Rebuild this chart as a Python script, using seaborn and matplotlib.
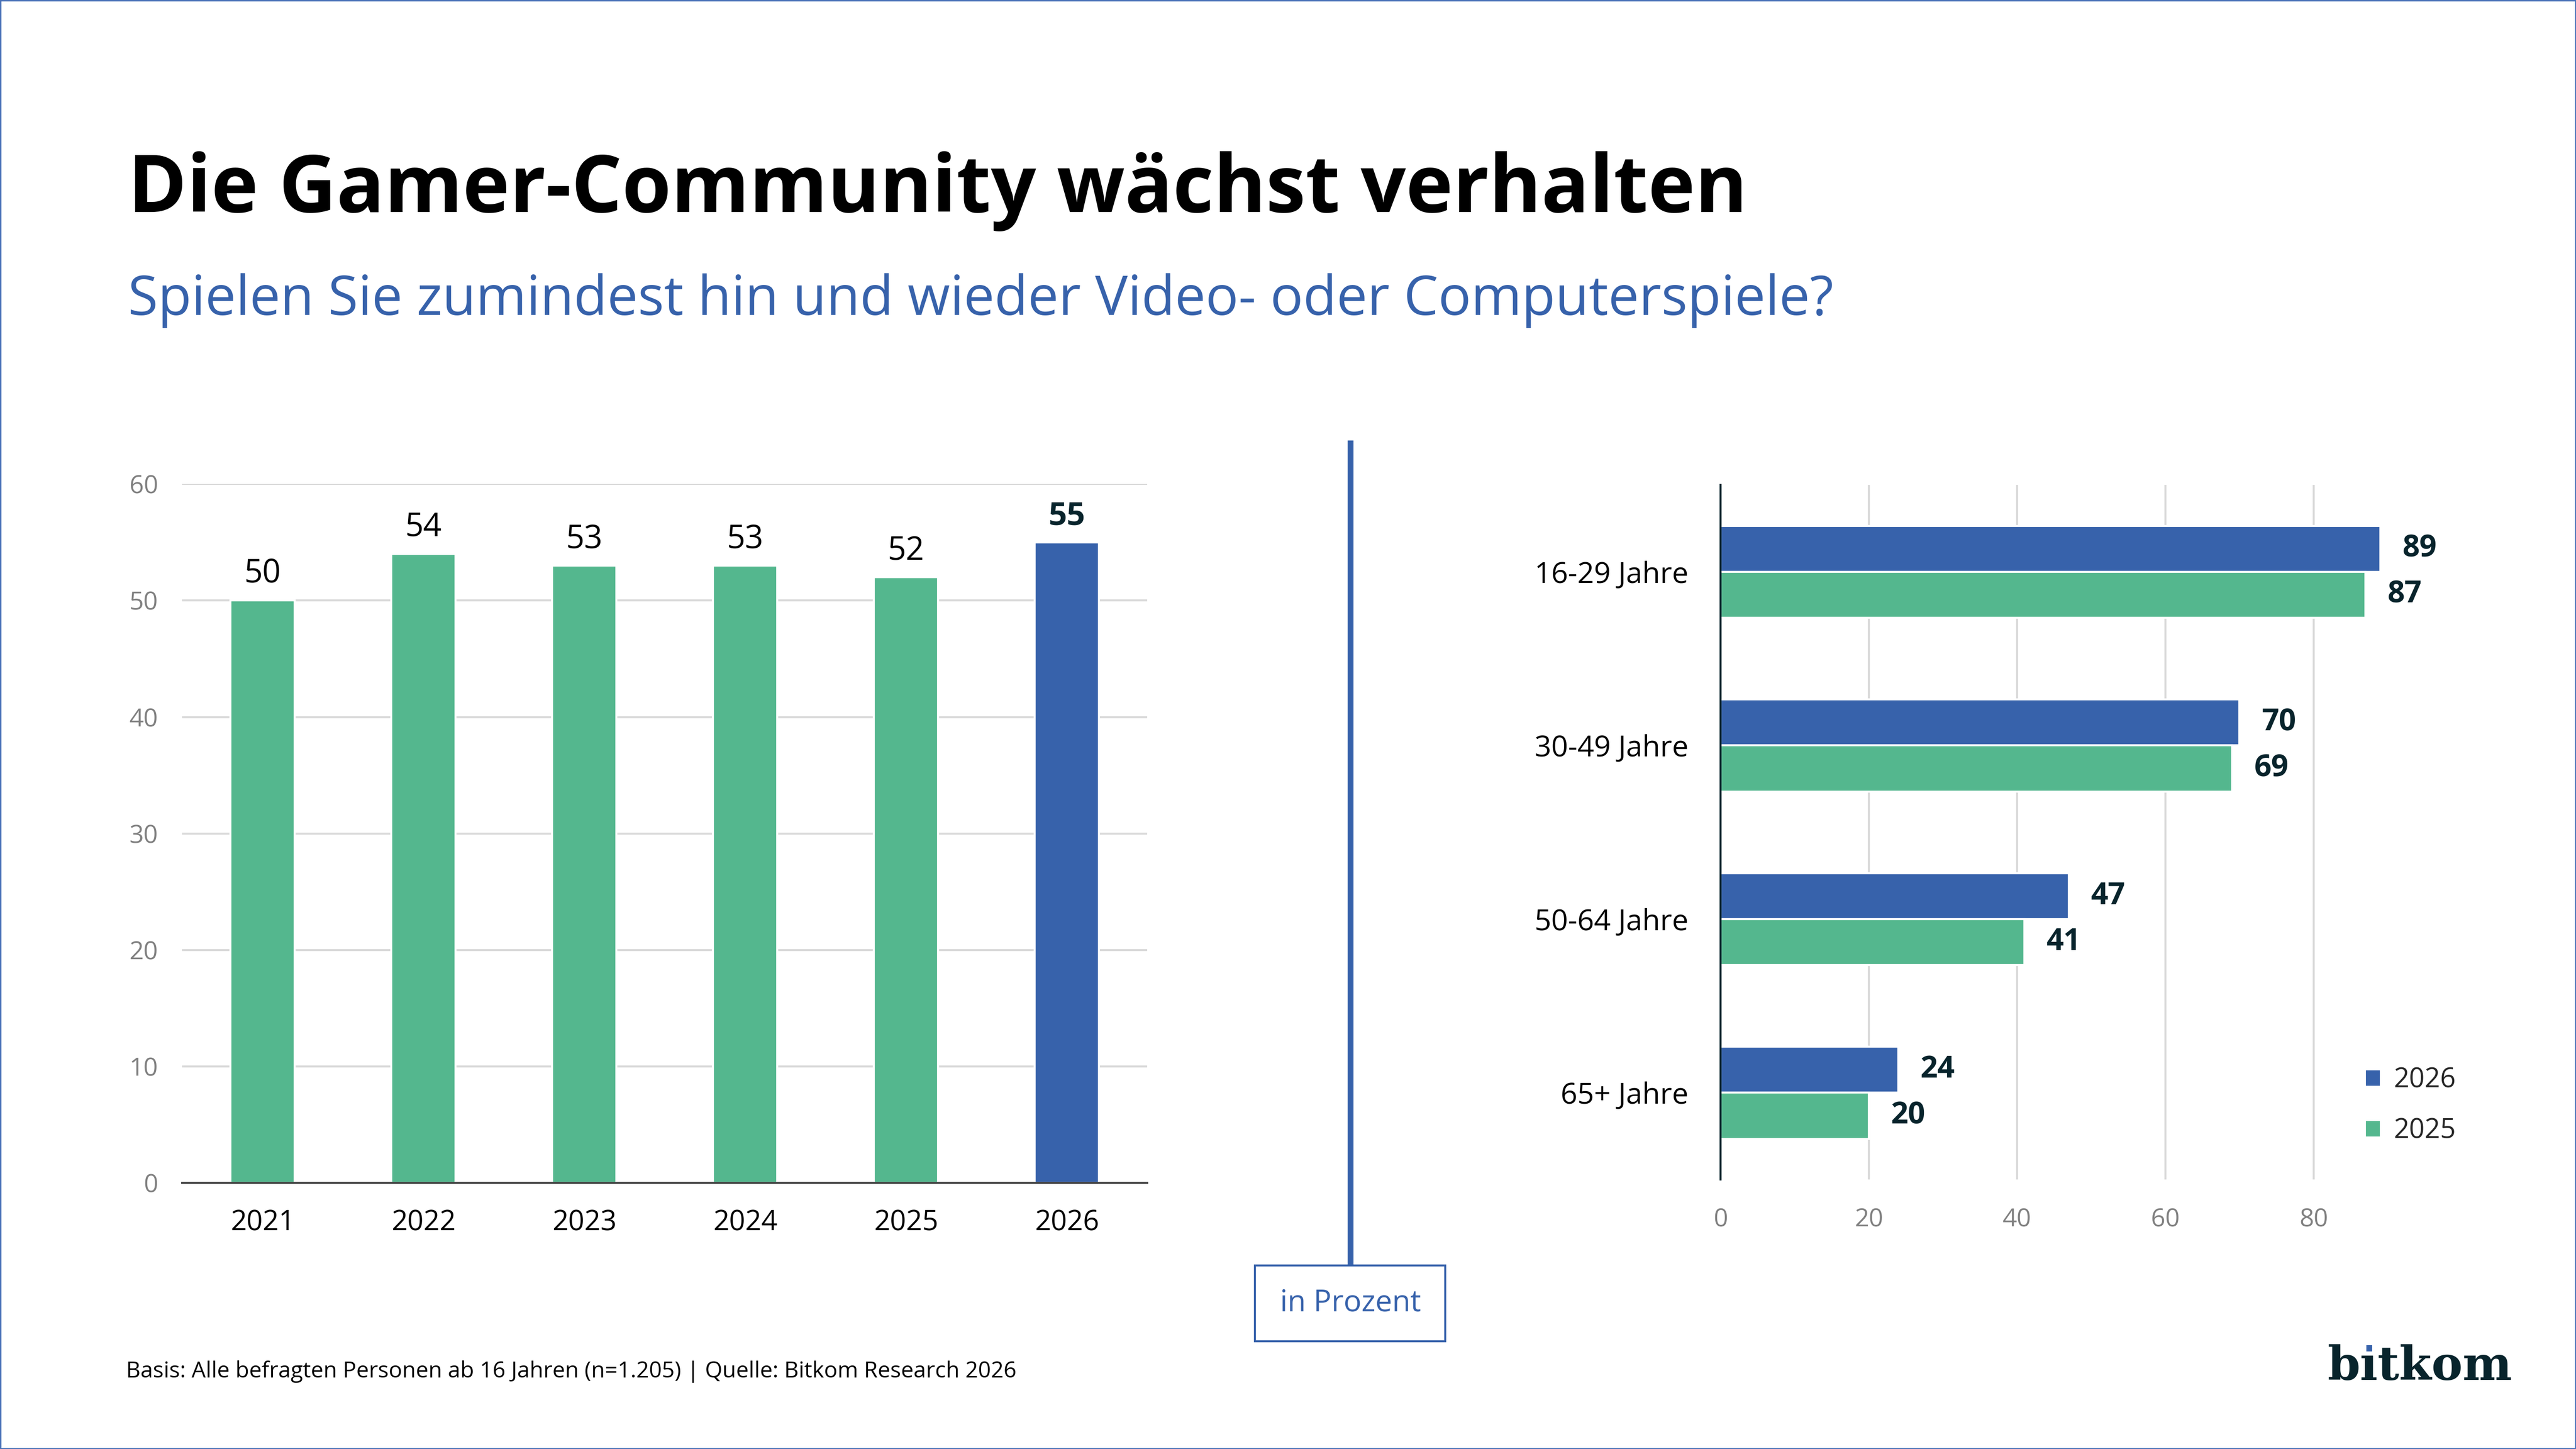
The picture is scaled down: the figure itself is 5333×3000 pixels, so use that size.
import matplotlib
matplotlib.use("Agg")
import matplotlib.pyplot as plt
from matplotlib.patches import Rectangle
from matplotlib.lines import Line2D
import pandas as pd
import seaborn as sns

# ----------------------------------------------------------------------
# Data
# ----------------------------------------------------------------------
years = ["2021", "2022", "2023", "2024", "2025", "2026"]
share_total = [50, 54, 53, 53, 52, 55]
highlight_year = "2026"

age_groups = ["16-29 Jahre", "30-49 Jahre", "50-64 Jahre", "65+ Jahre"]
share_2026 = [89, 70, 47, 24]
share_2025 = [87, 69, 41, 20]
year_order = ["2026", "2025"]

left_yticks = [0, 10, 20, 30, 40, 50, 60]
right_xticks = [0, 20, 40, 60, 80]

title = "Die Gamer-Community wächst verhalten"
subtitle = "Spielen Sie zumindest hin und wieder Video- oder Computerspiele?"
footer = "Basis: Alle befragten Personen ab 16 Jahren (n=1.205) | Quelle: Bitkom Research 2026"
unit_note = "in Prozent"

# ----------------------------------------------------------------------
# Style
# ----------------------------------------------------------------------
BLUE = "#3762ab"
GREEN = "#54b78e"
NAVY = "#08242c"
GRAY_TXT = "#808080"
GRID = "#d9d9d9"

sns.set_theme(style="white")
plt.rcParams["font.family"] = ["Open Sans", "DejaVu Sans"]

W, H, DPI = 5333, 3000, 300
fig = plt.figure(figsize=(W / DPI, H / DPI), dpi=DPI)
fig.patch.set_facecolor("white")

# ----------------------------------------------------------------------
# Left: total share per year
# ----------------------------------------------------------------------
ax1 = fig.add_axes([0.0707, 0.1836, 0.3747, 0.4823])
bar_colors = {y: (BLUE if y == highlight_year else GREEN) for y in years}
sns.barplot(x=years, y=share_total, hue=years, palette=bar_colors, width=0.4,
            saturation=1, legend=False, ax=ax1)
ax1.set_ylim(0, 60)
ax1.set_yticks(left_yticks)
ax1.yaxis.grid(True, color=GRID, linewidth=1.0)
ax1.set_axisbelow(True)
for side in ["top", "right", "left"]:
    ax1.spines[side].set_visible(False)
ax1.spines["bottom"].set_color("#404040")
ax1.spines["bottom"].set_linewidth(1.0)
ax1.tick_params(axis="y", length=0, pad=12, labelsize=12.5, labelcolor=GRAY_TXT)
ax1.tick_params(axis="x", length=0, pad=13, labelsize=14, labelcolor="black")
ax1.set_xlabel("")
ax1.set_ylabel("")

for cont in ax1.containers:
    for bar in cont:
        idx = int(round(bar.get_x() + bar.get_width() / 2))
        bold = years[idx] == highlight_year
        ax1.annotate(f"{bar.get_height():.0f}",
                     (bar.get_x() + bar.get_width() / 2, bar.get_height()),
                     xytext=(0, 5), textcoords="offset points",
                     ha="center", va="bottom", fontsize=16,
                     fontweight="bold" if bold else "normal",
                     color=NAVY if bold else "black")

# ----------------------------------------------------------------------
# Right: share by age group, 2026 vs 2025
# ----------------------------------------------------------------------
df = pd.DataFrame({
    "Gruppe": age_groups * 2,
    "Jahr": ["2026"] * len(age_groups) + ["2025"] * len(age_groups),
    "Anteil": share_2026 + share_2025,
})

ax2 = fig.add_axes([0.6679, 0.1860, 0.2878, 0.4793])
sns.barplot(data=df, y="Gruppe", x="Anteil", hue="Jahr", hue_order=year_order,
            palette={"2026": BLUE, "2025": GREEN}, width=0.53, saturation=1,
            orient="h", ax=ax2)
ax2.set_xlim(0, 100)
ax2.set_xticks(right_xticks)
ax2.xaxis.grid(True, color=GRID, linewidth=1.0)
ax2.set_axisbelow(True)
for side in ["top", "right", "bottom"]:
    ax2.spines[side].set_visible(False)
ax2.spines["left"].set_color(NAVY)
ax2.spines["left"].set_linewidth(1.0)
ax2.tick_params(axis="x", length=0, pad=14, labelsize=12.5, labelcolor=GRAY_TXT)
ax2.tick_params(axis="y", length=0, pad=16, labelsize=14.5, labelcolor="black")
ax2.set_xlabel("")
ax2.set_ylabel("")

for cont in ax2.containers:
    ax2.bar_label(cont, fmt="%.0f", padding=11, fontsize=15,
                  fontweight="bold", color=NAVY)

handles, labels = ax2.get_legend_handles_labels()
ax2.get_legend().remove()
fig.legend(handles, labels, loc="center left", bbox_to_anchor=(0.918, 0.2367),
           bbox_transform=fig.transFigure, frameon=False, fontsize=13.5,
           handlelength=0.6, handleheight=0.6, handletextpad=0.45,
           labelspacing=0.85, borderpad=0, borderaxespad=0)

# ----------------------------------------------------------------------
# Titles, divider, notes, logo
# ----------------------------------------------------------------------
fig.text(0.0497, 0.8537, title, fontsize=39.5, fontweight="bold",
         color="black", ha="left", va="baseline")
fig.text(0.0497, 0.7827, subtitle, fontsize=27.2, color=BLUE,
         ha="left", va="baseline")
fig.text(0.049, 0.0493, footer, fontsize=11.1, color="black",
         ha="left", va="baseline")

fig.add_artist(Line2D([0.5243, 0.5243], [0.1267, 0.696], transform=fig.transFigure,
                      color=BLUE, linewidth=2.9, solid_capstyle="butt"))
fig.add_artist(Rectangle((0.4872, 0.0743), 0.0738, 0.0524, transform=fig.transFigure,
                         facecolor="white", edgecolor=BLUE, linewidth=1.0))
fig.text(0.5243, 0.1005, unit_note, fontsize=14.8, color=BLUE,
         ha="center", va="center")

# thin frame round the whole slide
fig.add_artist(Rectangle((0, 0), 1, 1, transform=fig.transFigure,
                         facecolor="none", edgecolor="#4a72b8", linewidth=1.2))

# logo: dotless i with a blue square as its dot
logo_size = 23.2
logo = fig.text(0.9036, 0.0477, "b\u0131tkom", fontsize=logo_size, fontweight="bold",
                family="DejaVu Serif", color=NAVY, ha="left", va="baseline")
renderer = fig.canvas.get_renderer()
probe_b = fig.text(0.9036, 0.0477, "b", fontsize=logo_size, fontweight="bold",
                   family="DejaVu Serif", ha="left", va="baseline")
probe_bi = fig.text(0.9036, 0.0477, "b\u0131", fontsize=logo_size, fontweight="bold",
                    family="DejaVu Serif", ha="left", va="baseline")
wb = probe_b.get_window_extent(renderer).x1
wbi = probe_bi.get_window_extent(renderer).x1
probe_b.remove()
probe_bi.remove()
px = logo_size * DPI / 72
dot = 0.13 * px
cx = (wb + wbi) / 2
base_y = 0.0477 * H
fig.add_artist(Rectangle(((cx - dot / 2) / W, (base_y + 0.61 * px) / H), dot / W, dot / H,
                         transform=fig.transFigure, facecolor=BLUE, edgecolor="none"))

fig.savefig("out.png", dpi=DPI, facecolor="white")
